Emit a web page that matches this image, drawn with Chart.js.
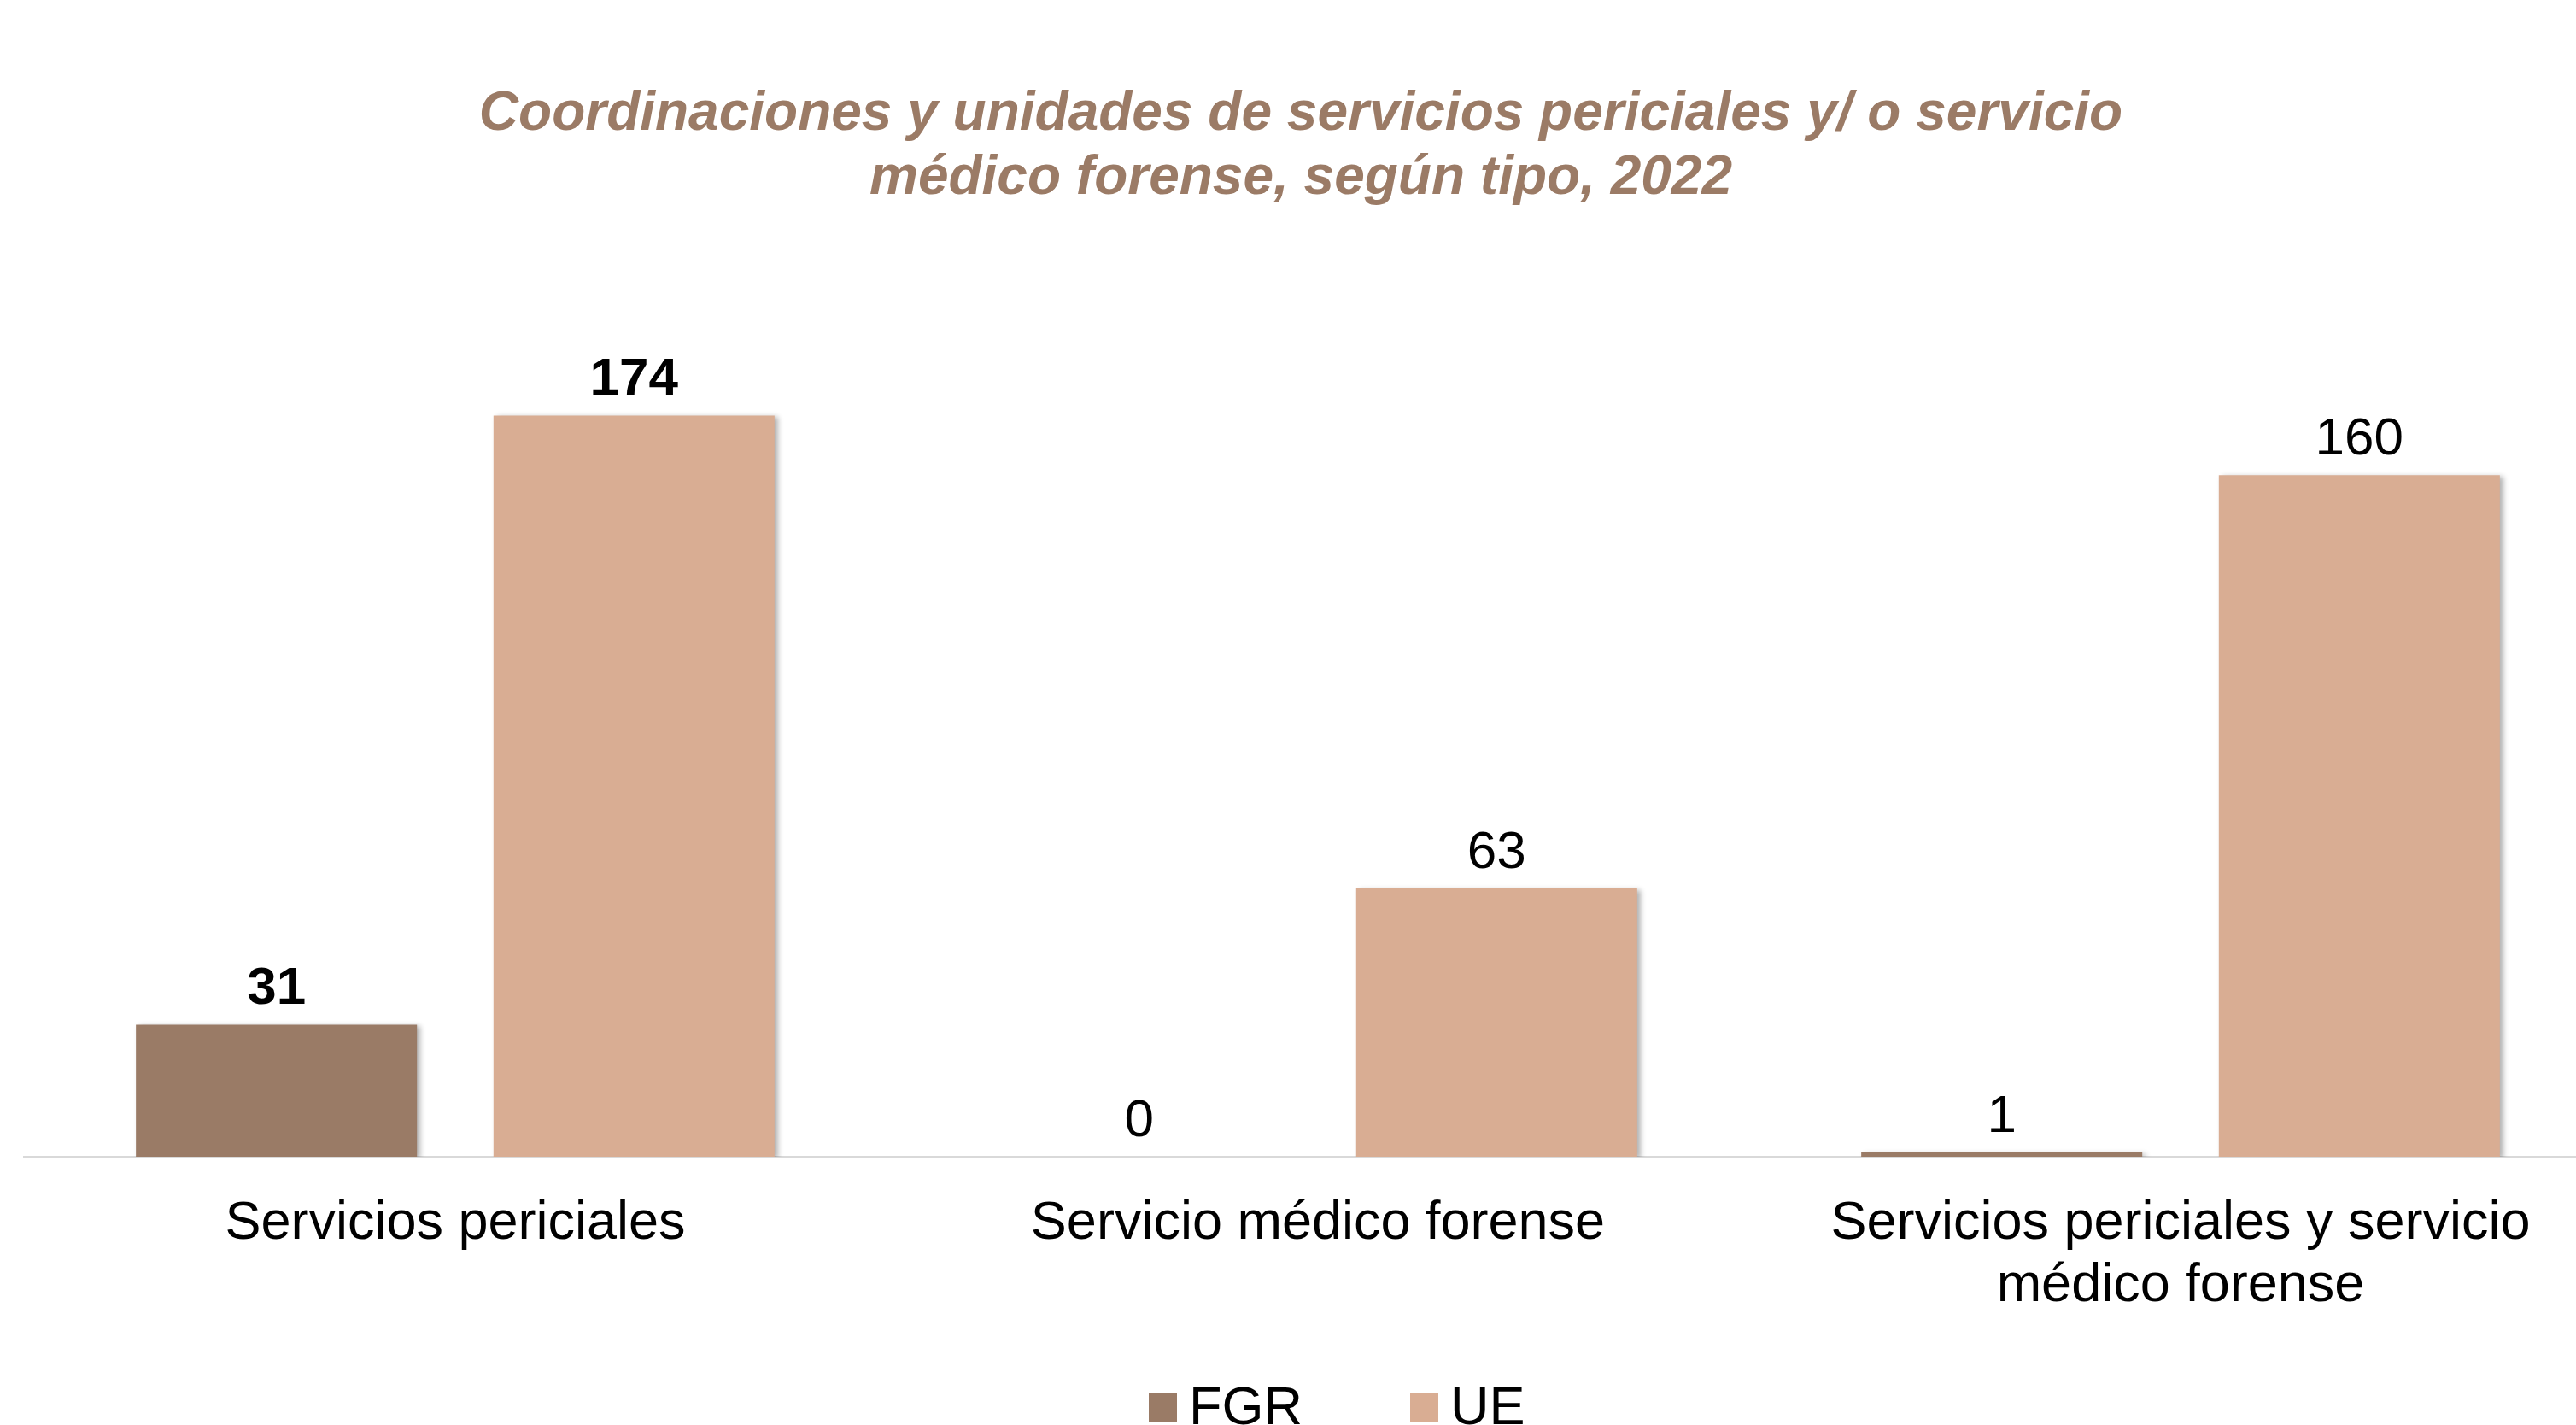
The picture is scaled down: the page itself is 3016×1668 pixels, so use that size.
<!DOCTYPE html>
<html>
<head>
<meta charset="utf-8">
<script src="https://cdn.jsdelivr.net/npm/chart.js@4.4.1/dist/chart.umd.min.js"></script>
<style>
    html, body { margin: 0; padding: 0; background: #fff; overflow: hidden; }
    body { position: relative; width: 3016px; height: 1668px; }
    #wrap { position: absolute; left: -40px; top: 0; width: 3110px; height: 1668px; }
    #legend {
        position: absolute; left: 1345px; top: 1614px;
        display: flex; align-items: center;
        font-family: "Liberation Sans", Arial, sans-serif;
        font-size: 63px; line-height: 63px; color: #000;
    }
    #legend .item { display: flex; align-items: center; margin-right: 126px; }
    #legend .box { width: 33px; height: 33px; margin-right: 14px; position: relative; top: 2px; }
</style>
</head>
<body>
<div id="wrap"><canvas id="peritosChart" width="3110" height="1668"></canvas></div>
<div id="legend"></div>
<script>
// Data
const categories = [
    "Servicios periciales",
    "Servicio médico forense",
    ["Servicios periciales y servicio", "médico forense"],
];
const seriesNames = ["FGR", "UE"];
const fgrValues = [31, 0, 1];
const ueValues = [174, 63, 160];

const fgrColor = "#9a7b66";
const ueColor = "#d9ad93";

// Soft shadow on the bars, like the original
const barShadow = {
    id: "barShadow",
    beforeDatasetsDraw(chart) {
        const ctx = chart.ctx;
        ctx.save();
        ctx.shadowColor = "rgba(0, 0, 0, 0.3)";
        ctx.shadowBlur = 6;
        ctx.shadowOffsetX = 4;
        ctx.shadowOffsetY = 2;
    },
    afterDatasetsDraw(chart) {
        chart.ctx.restore();
    },
};

// Value labels above the bars (first group in bold)
const valueLabels = {
    id: "valueLabels",
    afterDatasetsDraw(chart) {
        const ctx = chart.ctx;
        ctx.save();
        ctx.fillStyle = "#000";
        ctx.textAlign = "center";
        ctx.textBaseline = "alphabetic";
        chart.data.datasets.forEach((ds, di) => {
            const meta = chart.getDatasetMeta(di);
            meta.data.forEach((bar, i) => {
                ctx.font = (i === 0 ? "bold " : "") + '62px "Liberation Sans", Arial, sans-serif';
                ctx.fillText(String(ds.data[i]), bar.x, bar.y - 24);
            });
        });
        ctx.restore();
    },
};

const ctx = document.getElementById("peritosChart").getContext("2d");
const chart = new Chart(ctx, {
    type: "bar",
    data: {
        labels: categories,
        datasets: [
            {
                label: seriesNames[0],
                data: fgrValues,
                backgroundColor: fgrColor,
                categoryPercentage: 0.829,
                barPercentage: 0.786,
            },
            {
                label: seriesNames[1],
                data: ueValues,
                backgroundColor: ueColor,
                categoryPercentage: 0.829,
                barPercentage: 0.786,
            },
        ],
    },
    options: {
        responsive: false,
        animation: false,
        layout: {
            padding: { top: 0, left: 28, right: 12, bottom: 124 },
        },
        plugins: {
            title: {
                display: true,
                text: [
                    "Coordinaciones y unidades de servicios periciales y/ o servicio",
                    "médico forense, según tipo, 2022",
                ],
                color: "#9b7b66",
                font: {
                    family: '"Liberation Sans", Arial, sans-serif',
                    size: 64,
                    weight: "bold",
                    style: "italic",
                    lineHeight: 1.17,
                },
                padding: { top: 97, bottom: 110 },
            },
            legend: { display: false },
            tooltip: { enabled: false },
        },
        scales: {
            x: {
                grid: { display: false, drawTicks: false },
                border: { display: true, color: "#d9d9d9", width: 2 },
                ticks: {
                    color: "#000",
                    padding: 42,
                    maxRotation: 0,
                    font: {
                        family: '"Liberation Sans", Arial, sans-serif',
                        size: 63,
                        lineHeight: 1.16,
                    },
                },
                afterFit(scale) {
                    scale.height = 190;
                },
            },
            y: {
                position: "left",
                min: 0,
                max: 200,
                grid: { display: false, drawTicks: false },
                border: { display: false },
                ticks: { display: false },
                afterFit(scale) {
                    scale.width = 40;
                },
            },
        },
    },
    plugins: [barShadow, valueLabels],
});

// Legend (HTML, built from the datasets)
const legendEl = document.getElementById("legend");
chart.data.datasets.forEach((ds) => {
    const item = document.createElement("div");
    item.className = "item";
    const box = document.createElement("span");
    box.className = "box";
    box.style.background = ds.backgroundColor;
    const txt = document.createElement("span");
    txt.textContent = ds.label;
    item.appendChild(box);
    item.appendChild(txt);
    legendEl.appendChild(item);
});
</script>
</body>
</html>
